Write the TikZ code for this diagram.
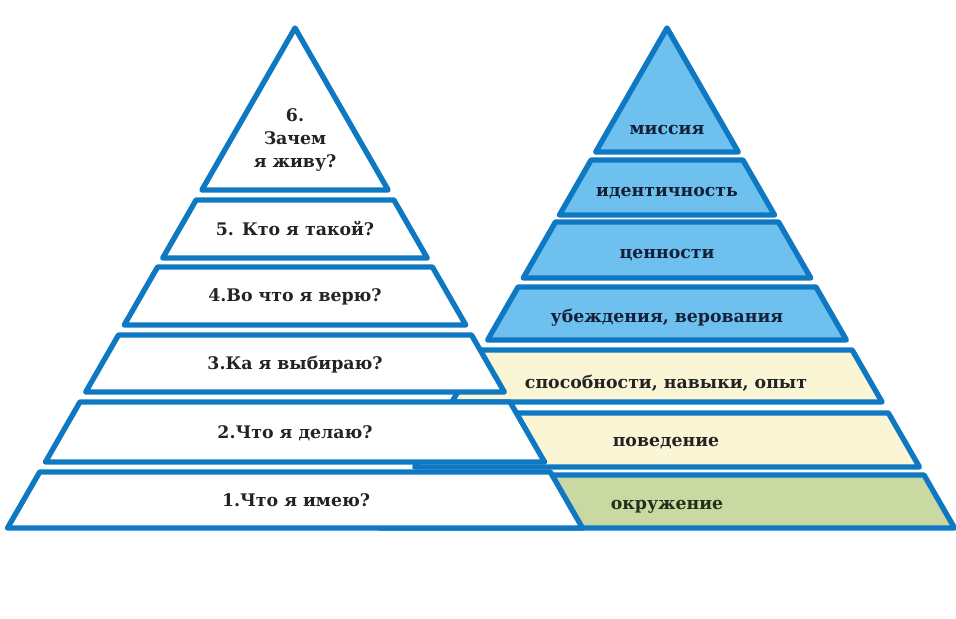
\documentclass[tikz,border=0pt]{standalone}
\usepackage{fontspec}
\setmainfont{DejaVu Serif}
\definecolor{pyrblue}{RGB}{14,120,195}
\definecolor{skyfill}{RGB}{110,192,238}
\definecolor{creamfill}{RGB}{250,245,212}
\definecolor{sagefill}{RGB}{202,216,162}
\definecolor{greytext}{RGB}{35,35,35}
\definecolor{navytext}{RGB}{20,32,55}
\definecolor{olivetext}{RGB}{35,48,25}
\tikzset{
  layer/.style={draw=pyrblue,line width=4pt,line join=round},
  lab/.style={font=\bfseries\fontsize{13}{17}\selectfont,align=center,text=greytext},
}
\newcommand{\band}[4]{\draw[layer,fill=#4] ({#1-0.575*(#2-28)},#2) -- ({#1+0.575*(#2-28)},#2) -- ({#1+0.575*(#3-28)},#3) -- ({#1-0.575*(#3-28)},#3) -- cycle;}
\newcommand{\peak}[3]{\draw[layer,fill=#3] (#1,28) -- ({#1+0.575*(#2-28)},#2) -- ({#1-0.575*(#2-28)},#2) -- cycle;}
\begin{document}
\begin{tikzpicture}[x=0.75pt,y=-0.75pt]
\useasboundingbox[fill=white] (0,0) rectangle (956,618);
\peak{667}{152}{skyfill}
\foreach \t/\b/\c in {160/215/skyfill,222/278/skyfill,287/340/skyfill,350/402/creamfill,413/467/creamfill,475/528/sagefill} {\band{667}{\t}{\b}{\c}}
\peak{295}{190}{white}
\foreach \t/\b in {200/258,267/325,335/392,402/462,472/528} {\band{295}{\t}{\b}{white}}
\node[lab] (why) at (295,140) {6.\\Зачем\\я живу?};
\node[lab] (who) at (295,229) {5. Кто я такой?};
\node[lab] (believe) at (295,297) {4.Во что я верю?};
\node[lab] (choose) at (295,365) {3.Ка я выбираю?};
\node[lab] (do) at (295,433) {2.Что я делаю?};
\node[lab] (have) at (296,500) {1.Что я имею?};
\node[lab,text=navytext] (mission) at (667,130) {миссия};
\node[lab,text=navytext] (identity) at (667,193) {идентичность};
\node[lab,text=navytext] (values) at (667,255) {ценности};
\node[lab,text=navytext] (beliefs) at (667,318) {убеждения, верования};
\node[lab] (skills) at (666,383) {способности, навыки, опыт};
\node[lab] (behavior) at (666,443) {поведение};
\node[lab,text=olivetext] (environment) at (667,507) {окружение};
\end{tikzpicture}
\end{document}
